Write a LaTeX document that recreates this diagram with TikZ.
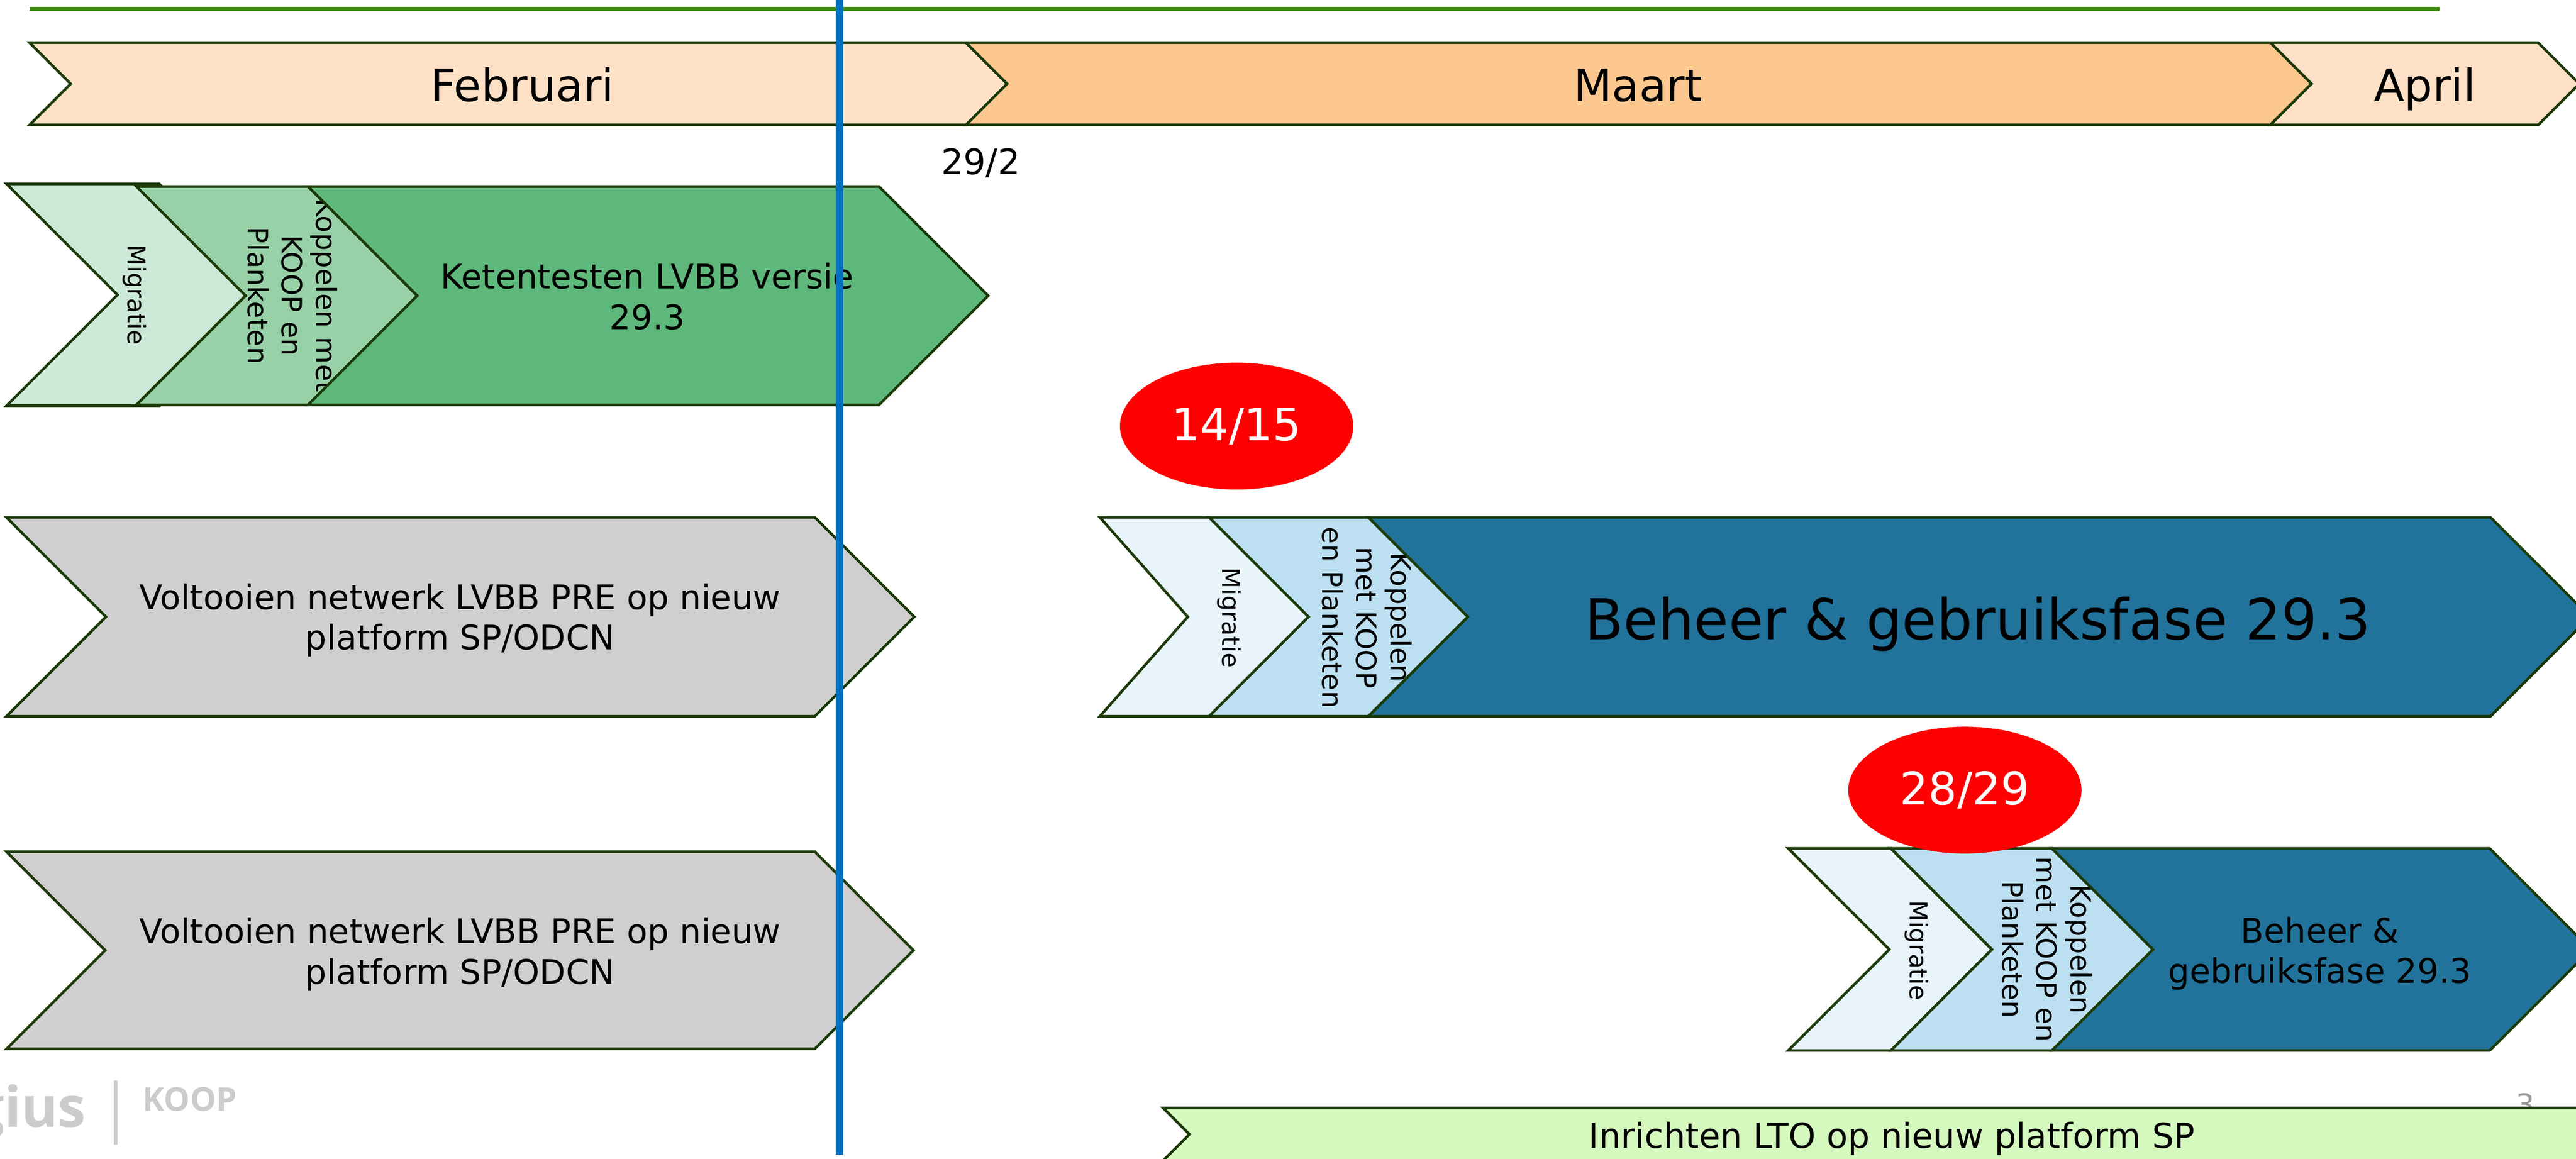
\documentclass[tikz,border=0pt]{standalone}
\usepackage{fontspec}
\setmainfont{DejaVu Sans}
\newfontfamily\logofont{Open Sans}
\usepackage{tikz}
\usepackage{xcolor}
\usetikzlibrary{shapes.geometric}

\definecolor{edgegreen}{HTML}{1B3A07}
\definecolor{topgreen}{HTML}{3D8B11}
\definecolor{todayblue}{HTML}{0070C0}
\definecolor{monthlight}{HTML}{FDE0C5}
\definecolor{monthdark}{HTML}{FDC790}
\definecolor{greenA}{HTML}{CCE8D6}
\definecolor{greenB}{HTML}{98D1A8}
\definecolor{greenC}{HTML}{5FB87B}
\definecolor{greyphase}{HTML}{D0CECF}
\definecolor{blueA}{HTML}{E8F3FA}
\definecolor{blueB}{HTML}{BCDFF1}
\definecolor{blueC}{HTML}{22739B}
\definecolor{ltogreen}{HTML}{D4F8BE}
\definecolor{logogrey}{HTML}{CCCCCC}
\definecolor{pagegrey}{HTML}{999999}

\begin{document}
\begin{tikzpicture}[x=0.5pt, y=-0.5pt,
	phase/.style={draw=edgegreen, line width=0.8pt},
	phasetext/.style={inner sep=0pt, align=center},
	monthtext/.style={phasetext, anchor=base, font=\fontsize{13.55}{16}\selectfont},
	tasktext/.style={phasetext, font=\fontsize{10.3}{12.35}\selectfont},
	migtext/.style={phasetext, rotate=-90, font=\fontsize{7.45}{9}\selectfont},
	koptext/.style={phasetext, rotate=-90, font=\fontsize{8.5}{10.4}\selectfont},
	milestone/.style={ellipse, fill=red, text=white, inner sep=0pt, minimum width=71pt, minimum height=38.6pt, font=\fontsize{13.7}{16}\selectfont}]
	\useasboundingbox (0,0) rectangle (1568,705.5);
	% Paths, nodes and wires:
	\coordinate (plan start) at (18,5.5);
	\coordinate (plan end) at (1485,5.5);
	\draw[topgreen, line width=1.25pt] (plan start) -- (plan end);

	% months
	\draw[phase, fill=monthlight] (18,26) -- (588,26) -- (613,51) -- (588,76) -- (18,76) -- (43,51) -- cycle;
	\draw[phase, fill=monthdark] (588,26) -- (1382,26) -- (1407,51) -- (1382,76) -- (588,76) -- (613,51) -- cycle;
	\draw[phase, fill=monthlight] (1382,26) -- (1545,26) -- (1570,51) -- (1545,76) -- (1382,76) -- (1407,51) -- cycle;
	\node[monthtext] (feb) at (318,61.7) {Februari};
	\node[monthtext] (mrt) at (997,61.7) {Maart};
	\node[monthtext] (apr) at (1476,61.7) {April};
	\node[phasetext, anchor=base, font=\fontsize{10.7}{13}\selectfont] (date) at (597,106.3) {29/2};

	% row 1
	\draw[phase, fill=greenA] (4,112) -- (97,112) -- (164.5,179.5) -- (97,247) -- (4,247) -- (71.5,179.5) -- cycle;
	\node[migtext] (mig1) at (82,179.5) {Migratie};
	\draw[phase, fill=greenB] (83,113.5) -- (187.5,113.5) -- (254,180) -- (187.5,246.5) -- (83,246.5) -- (149.5,180) -- cycle;
	\node[koptext] (kop1) at (178,180) {Koppelen met\\KOOP en\\Planketen};
	\draw[phase, fill=greenC] (187.5,113.5) -- (535,113.5) -- (601.5,180) -- (535,246.5) -- (187.5,246.5) -- (254,180) -- cycle;
	\node[tasktext] (keten) at (394,180.5) {Ketentesten LVBB versie\\29.3};

	% row 2
	\draw[phase, fill=greyphase] (4,315) -- (496,315) -- (556.5,375.5) -- (496,436) -- (4,436) -- (64.5,375.5) -- cycle;
	\node[tasktext] (volt1) at (280,377.5) {Voltooien netwerk LVBB PRE op nieuw\\platform SP/ODCN};
	\draw[phase, fill=blueA] (669.5,315) -- (736,315) -- (796.5,375.5) -- (736,436) -- (669.5,436) -- (723,375.5) -- cycle;
	\node[migtext] (mig2) at (748,376) {Migratie};
	\draw[phase, fill=blueB] (736,315) -- (833,315) -- (893.5,375.5) -- (833,436) -- (736,436) -- (796.5,375.5) -- cycle;
	\node[koptext] (kop2) at (832,376) {Koppelen\\met KOOP\\en Planketen};
	\draw[phase, fill=blueC] (833,315) -- (1516,315) -- (1576.5,375.5) -- (1516,436) -- (833,436) -- (893.5,375.5) -- cycle;
	\node[phasetext, font=\fontsize{17.15}{20}\selectfont] (beheer1) at (1204,380) {Beheer \& gebruiksfase 29.3};

	% row 3
	\draw[phase, fill=greyphase] (4,518.5) -- (496,518.5) -- (556,578.5) -- (496,638.5) -- (4,638.5) -- (64,578.5) -- cycle;
	\node[tasktext] (volt2) at (280,581) {Voltooien netwerk LVBB PRE op nieuw\\platform SP/ODCN};
	\draw[phase, fill=blueA] (1088.5,516.5) -- (1151,516.5) -- (1212.5,578) -- (1151,639.5) -- (1088.5,639.5) -- (1150,578) -- cycle;
	\node[migtext] (mig3) at (1166.5,578.5) {Migratie};
	\draw[phase, fill=blueB] (1151,516.5) -- (1249,516.5) -- (1310.5,578) -- (1249,639.5) -- (1151,639.5) -- (1212.5,578) -- cycle;
	\node[koptext] (kop3) at (1246,578) {Koppelen\\met KOOP en\\Planketen};
	\draw[phase, fill=blueC] (1249,516.5) -- (1515.5,516.5) -- (1577,578) -- (1515.5,639.5) -- (1249,639.5) -- (1310.5,578) -- cycle;
	\node[tasktext] (beheer2) at (1412,580.5) {Beheer \&\\gebruiksfase 29.3};

	% milestones
	\node[milestone] (ms1) at (752.7,259.4) {14/15};
	\node[milestone] (ms2) at (1196,481) {28/29};

	% footer
	\node[phasetext, anchor=base, text=pagegrey, font=\fontsize{9}{11}\selectfont] (pagenr) at (1537,679) {3};
	\draw[phase, fill=ltogreen] (708,674.5) -- (1600,674.5) -- (1600,706.5) -- (708,706.5) -- (724,690.5) -- cycle;
	\node[phasetext, anchor=base, font=\fontsize{10.5}{13}\selectfont] (lto) at (1151.5,699) {Inrichten LTO op nieuw platform SP};
	\node[phasetext, anchor=base east, text=logogrey, font=\logofont\bfseries\fontsize{17}{20}\selectfont] (logius) at (52.6,686) {gius};
	\draw[logogrey, line width=1.1pt] (70.4,658) -- (70.4,697);
	\node[phasetext, anchor=base west, text=logogrey, font=\logofont\bfseries\fontsize{10}{12}\selectfont] (koop) at (86.5,676.3) {KOOP};

	% today
	\coordinate (today top) at (511,0);
	\coordinate (today bottom) at (511,703);
	\draw[todayblue, line width=2.3pt] (today top) -- (today bottom);
\end{tikzpicture}
\end{document}
